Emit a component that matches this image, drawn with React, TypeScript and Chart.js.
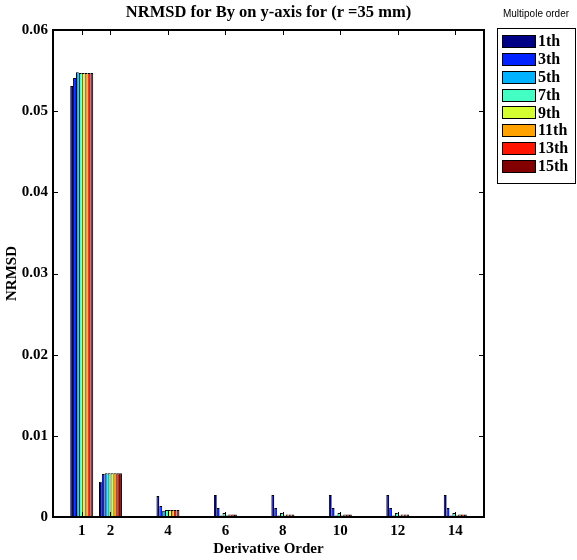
import React, { useEffect, useRef } from 'react';
import { Chart, registerables } from 'chart.js';

Chart.register(...registerables);

const derivativeOrders = [1, 2, 4, 6, 8, 10, 12, 14];
const seriesNames = ['1th', '3th', '5th', '7th', '9th', '11th', '13th', '15th'];
const mp1 = [0.0531, 0.00434, 0.0026, 0.0027, 0.0027, 0.0027, 0.0027, 0.0027];
const mp3 = [0.0541, 0.0053, 0.00135, 0.0011, 0.0011, 0.0011, 0.0011, 0.0011];
const mp5 = [0.0548, 0.0054, 0.00077, 0.0002, 0.0002, 0.0002, 0.0002, 0.0002];
const mp7 = [0.0547, 0.0054, 0.00086, 0.0005, 0.0005, 0.0005, 0.0005, 0.0005];
const mp9 = [0.0547, 0.0054, 0.00086, 0.0002, 0.0002, 0.0002, 0.0002, 0.0002];
const mp11 = [0.0547, 0.0054, 0.00086, 0.0003, 0.0003, 0.0003, 0.0003, 0.0003];
const mp13 = [0.0547, 0.0054, 0.00086, 0.0003, 0.0003, 0.0003, 0.0003, 0.0003];
const mp15 = [0.0547, 0.0054, 0.00086, 0.0003, 0.0003, 0.0003, 0.0003, 0.0003];
const seriesValues = [mp1, mp3, mp5, mp7, mp9, mp11, mp13, mp15];
const seriesColors = ['#000086', '#0022ff', '#00b2ff', '#44ffc4', '#d4ff30', '#ffa200', '#ff1400', '#820000'];
const yTicks = [0, 0.01, 0.02, 0.03, 0.04, 0.05, 0.06];
const xTicks = [1, 2, 4, 6, 8, 10, 12, 14];

const titleText = 'NRMSD for By on y-axis for (r =35 mm)';
const xTitle = 'Derivative Order';
const yTitle = 'NRMSD';
const legendTitle = 'Multipole order';

const SERIF = '"Liberation Serif", "Times New Roman", serif';
const SANS = '"Liberation Sans", Arial, sans-serif';

const decorPlugin = {
  id: 'decor',
  afterDraw(chart: any) {
    const ctx = chart.ctx as CanvasRenderingContext2D;
    const { left, right, top, bottom } = chart.chartArea;
    const xs = chart.scales.x;
    const ys = chart.scales.y;
    ctx.save();
    // box
    ctx.strokeStyle = '#000';
    ctx.lineWidth = 2;
    ctx.strokeRect(left, top, right - left, bottom - top);
    // inward ticks
    ctx.lineWidth = 1;
    ctx.beginPath();
    const tl = 5;
    yTicks.forEach((v) => {
      const py = Math.round(ys.getPixelForValue(v)) + 0.5;
      ctx.moveTo(left, py);
      ctx.lineTo(left + tl, py);
      ctx.moveTo(right, py);
      ctx.lineTo(right - tl, py);
    });
    xTicks.forEach((v) => {
      const px = Math.round(xs.getPixelForValue(v)) + 0.5;
      ctx.moveTo(px, bottom);
      ctx.lineTo(px, bottom - tl);
      ctx.moveTo(px, top);
      ctx.lineTo(px, top + tl);
    });
    ctx.stroke();

    // title
    ctx.fillStyle = '#000';
    ctx.textAlign = 'center';
    ctx.textBaseline = 'middle';
    ctx.font = `bold 16.5px ${SERIF}`;
    ctx.fillText(titleText, (left + right) / 2, 13);
    // x title
    ctx.font = `bold 15px ${SERIF}`;
    ctx.fillText(xTitle, (left + right) / 2, 549);
    // y title
    ctx.save();
    ctx.translate(12, (top + bottom) / 2);
    ctx.rotate(-Math.PI / 2);
    ctx.fillText(yTitle, 0, 0);
    ctx.restore();

    // legend
    ctx.font = `10px ${SANS}`;
    ctx.fillText(legendTitle, 536, 14);
    ctx.lineWidth = 1;
    ctx.strokeRect(497.5, 28.5, 78, 155);
    ctx.textAlign = 'left';
    ctx.font = `bold 16px ${SERIF}`;
    seriesNames.forEach((name, i) => {
      const cy = 41 + i * 17.86;
      ctx.fillStyle = seriesColors[i];
      ctx.fillRect(502, Math.round(cy - 6), 34, 13);
      ctx.strokeStyle = '#000';
      ctx.strokeRect(502.5, Math.round(cy - 6) + 0.5, 33, 12);
      ctx.fillStyle = '#000';
      ctx.fillText(name, 538, cy + 1);
    });
    ctx.restore();
  },
};

export default function App() {
  const ref = useRef<HTMLCanvasElement>(null);
  useEffect(() => {
    if (!ref.current) return;
    const datasets = seriesNames.map((name, i) => ({
      label: name,
      data: derivativeOrders.map((x, j) => ({ x, y: seriesValues[i][j] })),
      backgroundColor: seriesColors[i],
      borderColor: '#000',
      borderWidth: { top: 1, left: 1, right: i === seriesNames.length - 1 ? 1 : 0, bottom: 0 },
      borderSkipped: false,
      categoryPercentage: 0.8,
      barPercentage: 1,
    }));
    const chart = new Chart(ref.current, {
      type: 'bar',
      data: { datasets },
      options: {
        responsive: false,
        animation: false,
        devicePixelRatio: 1,
        layout: { padding: { left: 0, right: 93, top: 30, bottom: 0 } },
        plugins: { legend: { display: false }, title: { display: false }, tooltip: { enabled: false } },
        scales: {
          x: {
            type: 'linear',
            min: 0,
            max: 15,
            offset: false,
            grid: { display: false, drawTicks: false },
            border: { display: false },
            afterBuildTicks: (scale: any) => {
              scale.ticks = xTicks.map((v) => ({ value: v }));
            },
            afterFit: (scale: any) => {
              scale.height = 43;
            },
            ticks: {
              autoSkip: false,
              maxRotation: 0,
              padding: 5,
              color: '#000',
              font: { family: SERIF, size: 15, weight: 'bold' },
              callback: (v: any) => String(v),
            },
          },
          y: {
            type: 'linear',
            min: 0,
            max: 0.06,
            grid: { display: false, drawTicks: false },
            border: { display: false },
            afterBuildTicks: (scale: any) => {
              scale.ticks = yTicks.map((v) => ({ value: v }));
            },
            afterFit: (scale: any) => {
              scale.width = 53;
            },
            ticks: {
              padding: 5,
              color: '#000',
              font: { family: SERIF, size: 15, weight: 'bold' },
              callback: (v: any) => (v === 0 ? '0' : Number(v).toFixed(2)),
            },
          },
        },
      } as any,
      plugins: [decorPlugin],
    });
    return () => chart.destroy();
  }, []);
  return (
    <div style={{ position: 'absolute', left: 0, top: 0, width: 577, height: 560, background: '#fff' }}>
      <canvas ref={ref} width={577} height={560} style={{ display: 'block' }} />
    </div>
  );
}
